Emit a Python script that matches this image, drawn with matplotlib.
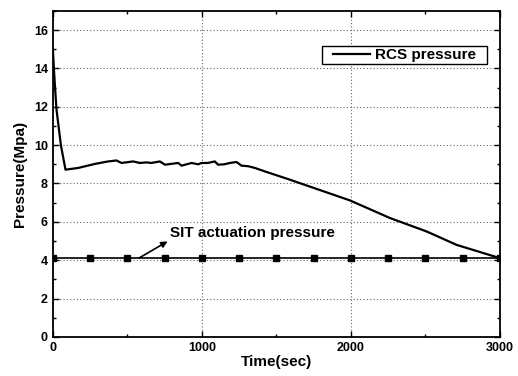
import matplotlib
matplotlib.use("Agg")
import matplotlib.pyplot as plt
from matplotlib.ticker import MultipleLocator
from matplotlib.legend_handler import HandlerLine2D

plt.rcParams['font.family'] = ['Liberation Sans', 'DejaVu Sans']
plt.rcParams['font.weight'] = 'bold'

# RCS pressure (MPa) vs time (s)
rcs_t = [0, 10, 24, 54, 85, 170, 282, 371, 427, 461, 539, 584, 629, 660, 718, 752,
         841, 864, 931, 975, 998, 1040, 1087, 1109, 1150, 1188, 1233, 1266, 1311,
         1356, 1423, 1590, 1993, 2262, 2508, 2709, 2978, 3000]
rcs_p = [15.0, 13.6, 11.9, 10.0, 8.72, 8.81, 9.02, 9.15, 9.2, 9.07, 9.15, 9.07, 9.1,
         9.07, 9.15, 8.98, 9.07, 8.93, 9.07, 9.0, 9.07, 9.07, 9.15, 8.98, 9.0, 9.07,
         9.12, 8.93, 8.9, 8.81, 8.63, 8.2, 7.12, 6.2, 5.5, 4.8, 4.16, 4.1]

# SIT actuation pressure
sit_t = [0, 250, 500, 750, 1000, 1250, 1500, 1750, 2000, 2250, 2500, 2750, 3000]
sit_p = [4.1] * len(sit_t)

fig = plt.figure(figsize=(5.18, 3.76), dpi=100)
ax = fig.add_axes([0.102, 0.104, 0.863, 0.867])

rcs_line, = ax.plot(rcs_t, rcs_p, color='black', lw=1.6, label='RCS pressure  ', zorder=3)
ax.plot(sit_t, sit_p, color='black', lw=1.2, marker='s', markersize=4.5, zorder=3)

ax.set_xlim(0, 3000)
ax.set_ylim(0, 17)
ax.xaxis.set_major_locator(MultipleLocator(1000))
ax.xaxis.set_minor_locator(MultipleLocator(500))
ax.yaxis.set_major_locator(MultipleLocator(2))
ax.yaxis.set_minor_locator(MultipleLocator(1))
ax.tick_params(which='both', direction='in', top=True, right=True, labelsize=9, width=1.0)
ax.tick_params(which='major', length=4)
ax.tick_params(which='minor', length=2.5)
for s in ax.spines.values():
    s.set_linewidth(1.3)
ax.grid(True, which='major', color='#666666', linestyle=(0, (1, 2)), linewidth=0.8)
for lbl in ax.get_xticklabels() + ax.get_yticklabels():
    lbl.set_fontweight('bold')

ax.set_xlabel('Time(sec)', fontsize=11, fontweight='bold', labelpad=1)
ax.set_ylabel('Pressure(Mpa)', fontsize=11, fontweight='bold', labelpad=5)

ax.annotate('', xy=(770, 4.98), xytext=(580, 4.12),
            arrowprops=dict(arrowstyle='-|>', color='black', lw=1.2, mutation_scale=9,
                            shrinkA=0, shrinkB=0))
ax.text(785, 5.43, 'SIT actuation pressure', fontsize=11, fontweight='bold',
        ha='left', va='center')

leg = ax.legend(loc='upper right', bbox_to_anchor=(0.971, 0.893), borderaxespad=0,
                fontsize=11, handlelength=3.0, handletextpad=0.33, borderpad=0.15,
                fancybox=False, framealpha=1, edgecolor='black',
                handler_map={rcs_line: HandlerLine2D(xpad=0.59)})
leg.get_frame().set_linewidth(1.0)

fig.savefig('out.png', dpi=100)
